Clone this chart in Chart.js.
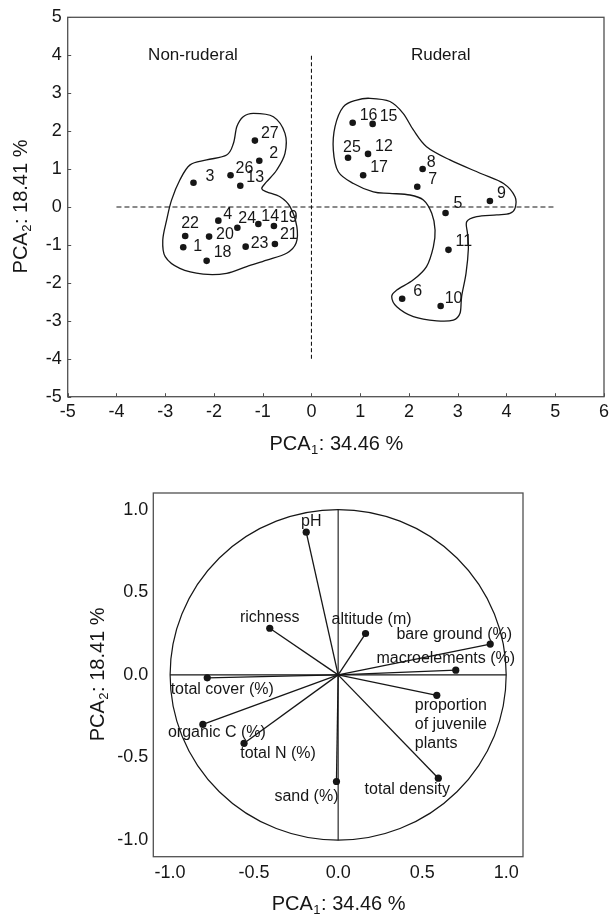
<!DOCTYPE html>
<html><head><meta charset="utf-8">
<script src="https://cdn.jsdelivr.net/npm/chart.js@4.4.0/dist/chart.umd.min.js"></script>
<style>
html,body{margin:0;padding:0;background:#fff;}
#wrap{position:relative;width:614px;height:914px;background:#fff;}
.box{position:absolute;left:0;width:614px;}
</style></head><body>
<div id="wrap">
<div class="box" style="top:0;height:460px"><canvas id="c1" width="614" height="460"></canvas></div>
<div class="box" style="top:460px;height:454px"><canvas id="c2" width="614" height="454"></canvas></div>
</div>
<script>
// ---------- DATA: site scores (top plot) ----------
const siteIds = ['1','2','3','4','5','6','7','8','9','10','11','12','13','14','15','16','17','18','19','20','21','22','23','24','25','26','27'];
const siteX = [-2.63,-1.07,-2.42,-1.91,2.75,1.86,2.17,2.28,3.66,2.65,2.81,1.16,-1.46,-1.09,1.255,0.845,1.06,-2.15,-0.77,-2.10,-0.75,-2.59,-1.35,-1.52,0.75,-1.66,-1.16];
const siteY = [-1.06,1.22,0.64,-0.36,-0.16,-2.42,0.535,1.0,0.16,-2.61,-1.13,1.40,0.56,-0.45,2.19,2.22,0.835,-1.42,-0.50,-0.78,-0.975,-0.765,-1.045,-0.545,1.30,0.835,1.75];

// group outlines (hand-drawn envelopes, data units)
const hullNonRuderalX = [-1.193,-0.782,-0.543,-0.543,-0.713,-0.918,-1.02,-0.918,-0.645,-0.44,-0.30,-0.317,-0.51,-0.918,-1.33,-1.74,-2.22,-2.70,-3.0,-3.05,-2.97,-2.87,-2.70,-2.49,-2.15,-1.74,-1.60,-1.53,-1.40];
const hullNonRuderalY = [2.47,2.38,1.94,1.415,0.975,0.667,0.49,0.40,0.27,0.01,-0.52,-0.957,-1.22,-1.40,-1.57,-1.75,-1.77,-1.62,-1.31,-0.87,-0.34,0.18,0.71,1.11,1.24,1.37,1.68,2.12,2.38];
const hullRuderalX = [0.928,1.20,1.61,1.88,2.09,2.36,2.84,3.46,3.94,4.175,4.175,4.07,3.80,3.39,3.185,3.20,3.218,3.17,3.08,3.047,2.91,2.57,2.09,1.75,1.646,1.75,2.09,2.36,2.50,2.535,2.467,2.295,2.02,1.60,1.27,0.86,0.55,0.448,0.483,0.653];
const hullRuderalY = [2.82,2.865,2.78,2.47,2.03,1.59,1.24,0.89,0.62,0.27,-0.035,-0.167,-0.21,-0.255,-0.387,-0.70,-1.10,-1.75,-2.36,-2.80,-2.98,-3.0,-2.89,-2.63,-2.36,-2.19,-1.92,-1.57,-1.05,-0.606,-0.167,0.185,0.316,0.36,0.40,0.62,0.93,1.50,2.12,2.64];

const groupNames = ['Non-ruderal','Ruderal'];
const groupX = [-2.43, 2.65];
const groupY = [3.99, 3.99];

const topXTicks = [-5,-4,-3,-2,-1,0,1,2,3,4,5,6];
const topYTicks = [-5,-4,-3,-2,-1,0,1,2,3,4,5];

// ---------- DATA: variable loadings (bottom plot) ----------
const varNames = ['pH','richness','altitude (m)','bare ground (%)','macroelements (%)','proportion of juvenile plants','total cover (%)','organic C (%)','total N (%)','sand (%)','total density'];
const loadX = [-0.19,-0.407,0.163,0.905,0.70,0.587,-0.779,-0.805,-0.56,-0.01,0.596];
const loadY = [0.863,0.282,0.25,0.186,0.028,-0.124,-0.018,-0.30,-0.414,-0.645,-0.625];
const botTicks = [-1.0,-0.5,0.0,0.5,1.0];

const xTitle = ['PCA','1',': 34.46 %'];
const yTitle = ['PCA','2',': 18.41 %'];

// ---------- STYLE ----------
const FONT = '"Liberation Sans", Arial, Helvetica, sans-serif';
const INK = '#161616';
const FRAME = '#505050';
// label offsets in px (left edge dx, middle dy) for site numbers
const siteLabelOffset = {
 '1':[10,-1],'2':[10,-7],'3':[12,-6],'4':[5,-6],'5':[8,-9],'6':[11,-7],'7':[11,-7],'8':[4,-6],'9':[7,-7],
 '10':[4,-7],'11':[7,-8],'12':[7,-7],'13':[6,-8],'14':[3,-7],'15':[7,-7],'16':[7,-7],'17':[7,-8],'18':[7,-8],
 '19':[6,-8],'20':[7,-2],'21':[5,-9],'22':[-4,-12],'23':[5,-3],'24':[1,-9],'25':[-5,-10],'26':[5,-7],'27':[6,-7]
};
// variable label placement: dx, dy (px, relative to point), align
const varLabelStyle = {
 'pH':[5,-11,'center'],'richness':[0,-11,'center'],'altitude (m)':[6,-14,'center'],
 'bare ground (%)':[-36,-10,'center'],'macroelements (%)':[-10,-12,'center'],
 'proportion of juvenile plants':[-22,10,'left'],'total cover (%)':[15,12,'center'],
 'organic C (%)':[14,8,'center'],'total N (%)':[34,10,'center'],'sand (%)':[-30,15,'center'],
 'total density':[-31,11,'center']
};
const varLabelLines = {'proportion of juvenile plants':['proportion','of juvenile','plants']};

function drawTitle(ctx, parts, cx, cy, rot){
  ctx.save(); ctx.translate(cx,cy); if(rot) ctx.rotate(-Math.PI/2);
  ctx.fillStyle = INK; ctx.textBaseline='alphabetic'; ctx.textAlign='left';
  const f1='20px '+FONT, f2='13px '+FONT;
  ctx.font=f1; const w1=ctx.measureText(parts[0]).width, w3=ctx.measureText(parts[2]).width;
  ctx.font=f2; const w2=ctx.measureText(parts[1]).width;
  let x=-(w1+w2+w3)/2; const base=7;
  ctx.font=f1; ctx.fillText(parts[0],x,base); x+=w1;
  ctx.font=f2; ctx.fillText(parts[1],x+0.5,base+4); x+=w2+1;
  ctx.font=f1; ctx.fillText(parts[2],x,base);
  ctx.restore();
}
function closedSpline(ctx, pts){
  const n=pts.length;
  ctx.beginPath(); ctx.moveTo(pts[0][0],pts[0][1]);
  for(let i=0;i<n;i++){
    const p0=pts[(i-1+n)%n], p1=pts[i], p2=pts[(i+1)%n], p3=pts[(i+2)%n];
    ctx.bezierCurveTo(p1[0]+(p2[0]-p0[0])/6, p1[1]+(p2[1]-p0[1])/6,
                      p2[0]-(p3[0]-p1[0])/6, p2[1]-(p3[1]-p1[1])/6, p2[0], p2[1]);
  }
  ctx.closePath(); ctx.stroke();
}
function frame(chart){
  const a=chart.chartArea, ctx=chart.ctx;
  ctx.save(); ctx.strokeStyle=FRAME; ctx.lineWidth=1.3;
  ctx.strokeRect(a.left,a.top,a.right-a.left,a.bottom-a.top); ctx.restore();
}
function fixTicks(arr){ return s=>{ s.ticks = arr.map(v=>({value:v})); }; }

// ---------- TOP CHART ----------
const topPlugin = {
  id:'topDeco',
  beforeDatasetsDraw(chart){
    const ctx=chart.ctx, xs=chart.scales.x, ys=chart.scales.y;
    ctx.save(); ctx.strokeStyle=INK; ctx.lineWidth=1.3;
    const h1 = hullNonRuderalX.map((v,i)=>[xs.getPixelForValue(v), ys.getPixelForValue(hullNonRuderalY[i])]);
    const h2 = hullRuderalX.map((v,i)=>[xs.getPixelForValue(v), ys.getPixelForValue(hullRuderalY[i])]);
    closedSpline(ctx,h1); closedSpline(ctx,h2);
    ctx.restore();
  },
  afterDraw(chart){
    const ctx=chart.ctx, xs=chart.scales.x, ys=chart.scales.y, a=chart.chartArea;
    frame(chart);
    ctx.save(); ctx.strokeStyle=FRAME; ctx.lineWidth=1;
    topXTicks.forEach(v=>{ const p=Math.round(xs.getPixelForValue(v))+0.5; ctx.beginPath(); ctx.moveTo(p,a.bottom); ctx.lineTo(p,a.bottom-3.5); ctx.stroke(); });
    topYTicks.forEach(v=>{ const p=Math.round(ys.getPixelForValue(v))+0.5; ctx.beginPath(); ctx.moveTo(a.left,p); ctx.lineTo(a.left+3.5,p); ctx.stroke(); });
    ctx.fillStyle=INK; ctx.textBaseline='middle'; ctx.textAlign='left'; ctx.font='16px '+FONT;
    siteIds.forEach((id,i)=>{
      const o=siteLabelOffset[id]||[6,-7];
      ctx.fillText(id, xs.getPixelForValue(siteX[i])+o[0], ys.getPixelForValue(siteY[i])+o[1]);
    });
    ctx.font='17px '+FONT; ctx.textAlign='center';
    groupNames.forEach((g,i)=>ctx.fillText(g, xs.getPixelForValue(groupX[i]), ys.getPixelForValue(groupY[i])));
    ctx.restore();
    drawTitle(ctx, xTitle, (a.left+a.right)/2, 443, false);
    drawTitle(ctx, yTitle, 20, (a.top+a.bottom)/2, true);
  }
};
const tickFont = {family:FONT, size:18};
new Chart(document.getElementById('c1'), {
  type:'scatter',
  data:{datasets:[
    {type:'line', data:[{x:-4,y:0},{x:5,y:0}], borderColor:INK, borderWidth:1.1, borderDash:[5,3], pointRadius:0},
    {type:'line', data:[{x:0,y:-4},{x:0,y:4}], borderColor:INK, borderWidth:1.1, borderDash:[4,2.5], pointRadius:0},
    {data: siteX.map((v,i)=>({x:v,y:siteY[i]})), backgroundColor:INK, borderColor:INK, pointRadius:3.3, borderWidth:0}
  ]},
  options:{
    responsive:false, animation:false, events:[],
    layout:{padding:{left:0,right:10,top:17.3,bottom:0}},
    plugins:{legend:{display:false}, tooltip:{enabled:false}},
    scales:{
      x:{type:'linear', min:-5, max:6, afterBuildTicks:fixTicks(topXTicks), afterFit:s=>{s.height=63.3;},
         grid:{display:false, drawTicks:false}, border:{display:false},
         ticks:{font:tickFont, color:INK, padding:5, maxRotation:0, autoSkip:false, callback:v=>String(v)}},
      y:{type:'linear', min:-5, max:5, afterBuildTicks:fixTicks(topYTicks), afterFit:s=>{s.width=67.7;},
         grid:{display:false, drawTicks:false}, border:{display:false},
         ticks:{font:tickFont, color:INK, padding:6, autoSkip:false, callback:v=>String(v)}}
    }
  },
  plugins:[topPlugin]
});

// ---------- BOTTOM CHART ----------
const botPlugin = {
  id:'botDeco',
  beforeDatasetsDraw(chart){
    const ctx=chart.ctx, xs=chart.scales.x, ys=chart.scales.y;
    const cx=xs.getPixelForValue(0), cy=ys.getPixelForValue(0);
    const rx=xs.getPixelForValue(1)-cx, ry=cy-ys.getPixelForValue(1);
    ctx.save(); ctx.strokeStyle=INK; ctx.lineWidth=1.2;
    ctx.beginPath(); ctx.ellipse(cx,cy,rx,ry,0,0,Math.PI*2); ctx.stroke(); ctx.restore();
  },
  afterDraw(chart){
    const ctx=chart.ctx, xs=chart.scales.x, ys=chart.scales.y, a=chart.chartArea;
    frame(chart);
    ctx.save(); ctx.fillStyle=INK; ctx.textBaseline='middle'; ctx.font='16px '+FONT;
    varNames.forEach((n,i)=>{
      const st=varLabelStyle[n]; const lines=varLabelLines[n]||[n];
      const px=xs.getPixelForValue(loadX[i])+st[0], py=ys.getPixelForValue(loadY[i])+st[1];
      ctx.textAlign=st[2];
      lines.forEach((l,k)=>ctx.fillText(l, px, py+k*19));
    });
    ctx.restore();
    drawTitle(ctx, xTitle, (a.left+a.right)/2, 442.7, false);
    drawTitle(ctx, yTitle, 97, (a.top+a.bottom)/2, true);
  }
};
const vecSets = varNames.map((n,i)=>({
  type:'line', label:n, data:[{x:0,y:0},{x:loadX[i],y:loadY[i]}],
  borderColor:INK, backgroundColor:INK, borderWidth:1.3, pointRadius:[0,3.6], pointBorderWidth:0
}));
new Chart(document.getElementById('c2'), {
  type:'scatter',
  data:{datasets:[
    {type:'line', data:[{x:-1,y:0},{x:1,y:0}], borderColor:INK, borderWidth:1.1, pointRadius:0},
    {type:'line', data:[{x:0,y:-1},{x:0,y:1}], borderColor:INK, borderWidth:1.1, pointRadius:0},
    ...vecSets
  ]},
  options:{
    responsive:false, animation:false, events:[],
    layout:{padding:{left:0,right:91,top:33,bottom:0}},
    plugins:{legend:{display:false}, tooltip:{enabled:false}},
    scales:{
      x:{type:'linear', min:-1.1, max:1.1, afterBuildTicks:fixTicks(botTicks), afterFit:s=>{s.height=57.3;},
         grid:{display:false, drawTicks:false}, border:{display:false},
         ticks:{font:tickFont, color:INK, padding:6, maxRotation:0, autoSkip:false, callback:v=>v.toFixed(1)}},
      y:{type:'linear', min:-1.1, max:1.1, afterBuildTicks:fixTicks(botTicks), afterFit:s=>{s.width=153.3;},
         grid:{display:false, drawTicks:false}, border:{display:false},
         ticks:{font:tickFont, color:INK, padding:5, autoSkip:false, callback:v=>v.toFixed(1)}}
    }
  },
  plugins:[botPlugin]
});
</script>
</body></html>
